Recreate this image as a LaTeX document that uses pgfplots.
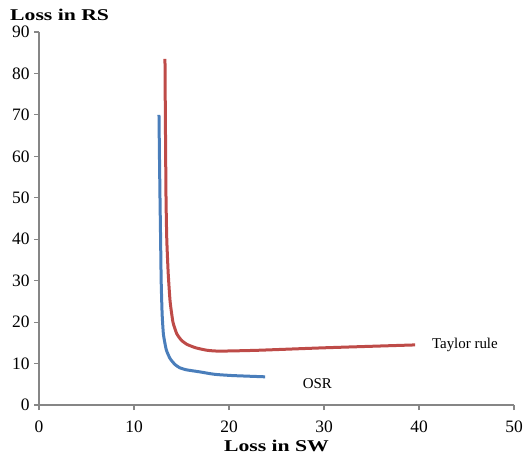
\documentclass[border=0pt]{standalone}
\usepackage{fontspec}
\setmainfont{Liberation Serif}
\usepackage{graphicx}
\usepackage{pgfplots}
\pgfplotsset{compat=1.18}
\definecolor{osrblue}{HTML}{4A7EBB}
\definecolor{taylorred}{HTML}{BE4B48}
\definecolor{axgray}{HTML}{868686}
\begin{document}
\begin{tikzpicture}
\useasboundingbox (-39bp,-49bp) rectangle (485bp,405bp);
\begin{axis}[
  at={(0,0)}, anchor=south west,
  scale only axis, width=475bp, height=373bp,
  xmin=0, xmax=50, ymin=0, ymax=90,
  xtick={0,10,...,50}, ytick={0,10,...,90},
  axis x line=bottom, axis y line=left,
  axis line style={axgray, line width=1.5pt, -},
  tick style={axgray, line width=1.2pt},
  tick align=outside, major tick length=5bp,
  ticklabel style={font=\fontsize{17.5}{20}\selectfont, black},
  /pgf/number format/assume math mode=true,
  xticklabel style={anchor=center, yshift=-17bp},
  yticklabel style={xshift=-1bp},
  clip=false,
]
\addplot[osrblue, line width=3bp, smooth, tension=0.3] coordinates {
  (12.63,70) (12.68,60) (12.74,49.4) (12.8,40) (12.86,30) (12.96,22)
  (13.1,17) (13.4,13.3) (13.8,11.2) (14.3,9.8) (14.8,9.0) (15.5,8.5)
  (16.9,8.0) (18.5,7.4) (20.4,7.1) (23.8,6.8)};
\addplot[taylorred, line width=3bp, smooth, tension=0.3] coordinates {
  (13.26,83.5) (13.3,70) (13.37,50) (13.45,40) (13.6,31.8) (13.8,25)
  (14.1,20) (14.5,17.2) (15.0,15.6) (15.6,14.6) (16.5,13.8) (17.7,13.2)
  (19,13.0) (23,13.2) (30,13.8) (39.6,14.5)};
\node[anchor=west, font=\fontsize{15}{17}\selectfont] at (axis cs:41.0,14.6) {Taylor rule};
\node[anchor=west, font=\fontsize{15}{17}\selectfont] at (axis cs:27.4,5.2) {OSR};
\node[anchor=base west, inner sep=0pt, font=\fontsize{16.5}{19}\selectfont\bfseries]
  at ([xshift=-29bp,yshift=12bp]rel axis cs:0,1) {\scalebox{1.32}[1]{Loss in RS}};
\node[anchor=base, inner sep=0pt, font=\fontsize{16.5}{19}\selectfont\bfseries]
  at ([yshift=-46bp]rel axis cs:0.5,0) {\scalebox{1.32}[1]{Loss in SW}};
\end{axis}
\end{tikzpicture}
\end{document}
